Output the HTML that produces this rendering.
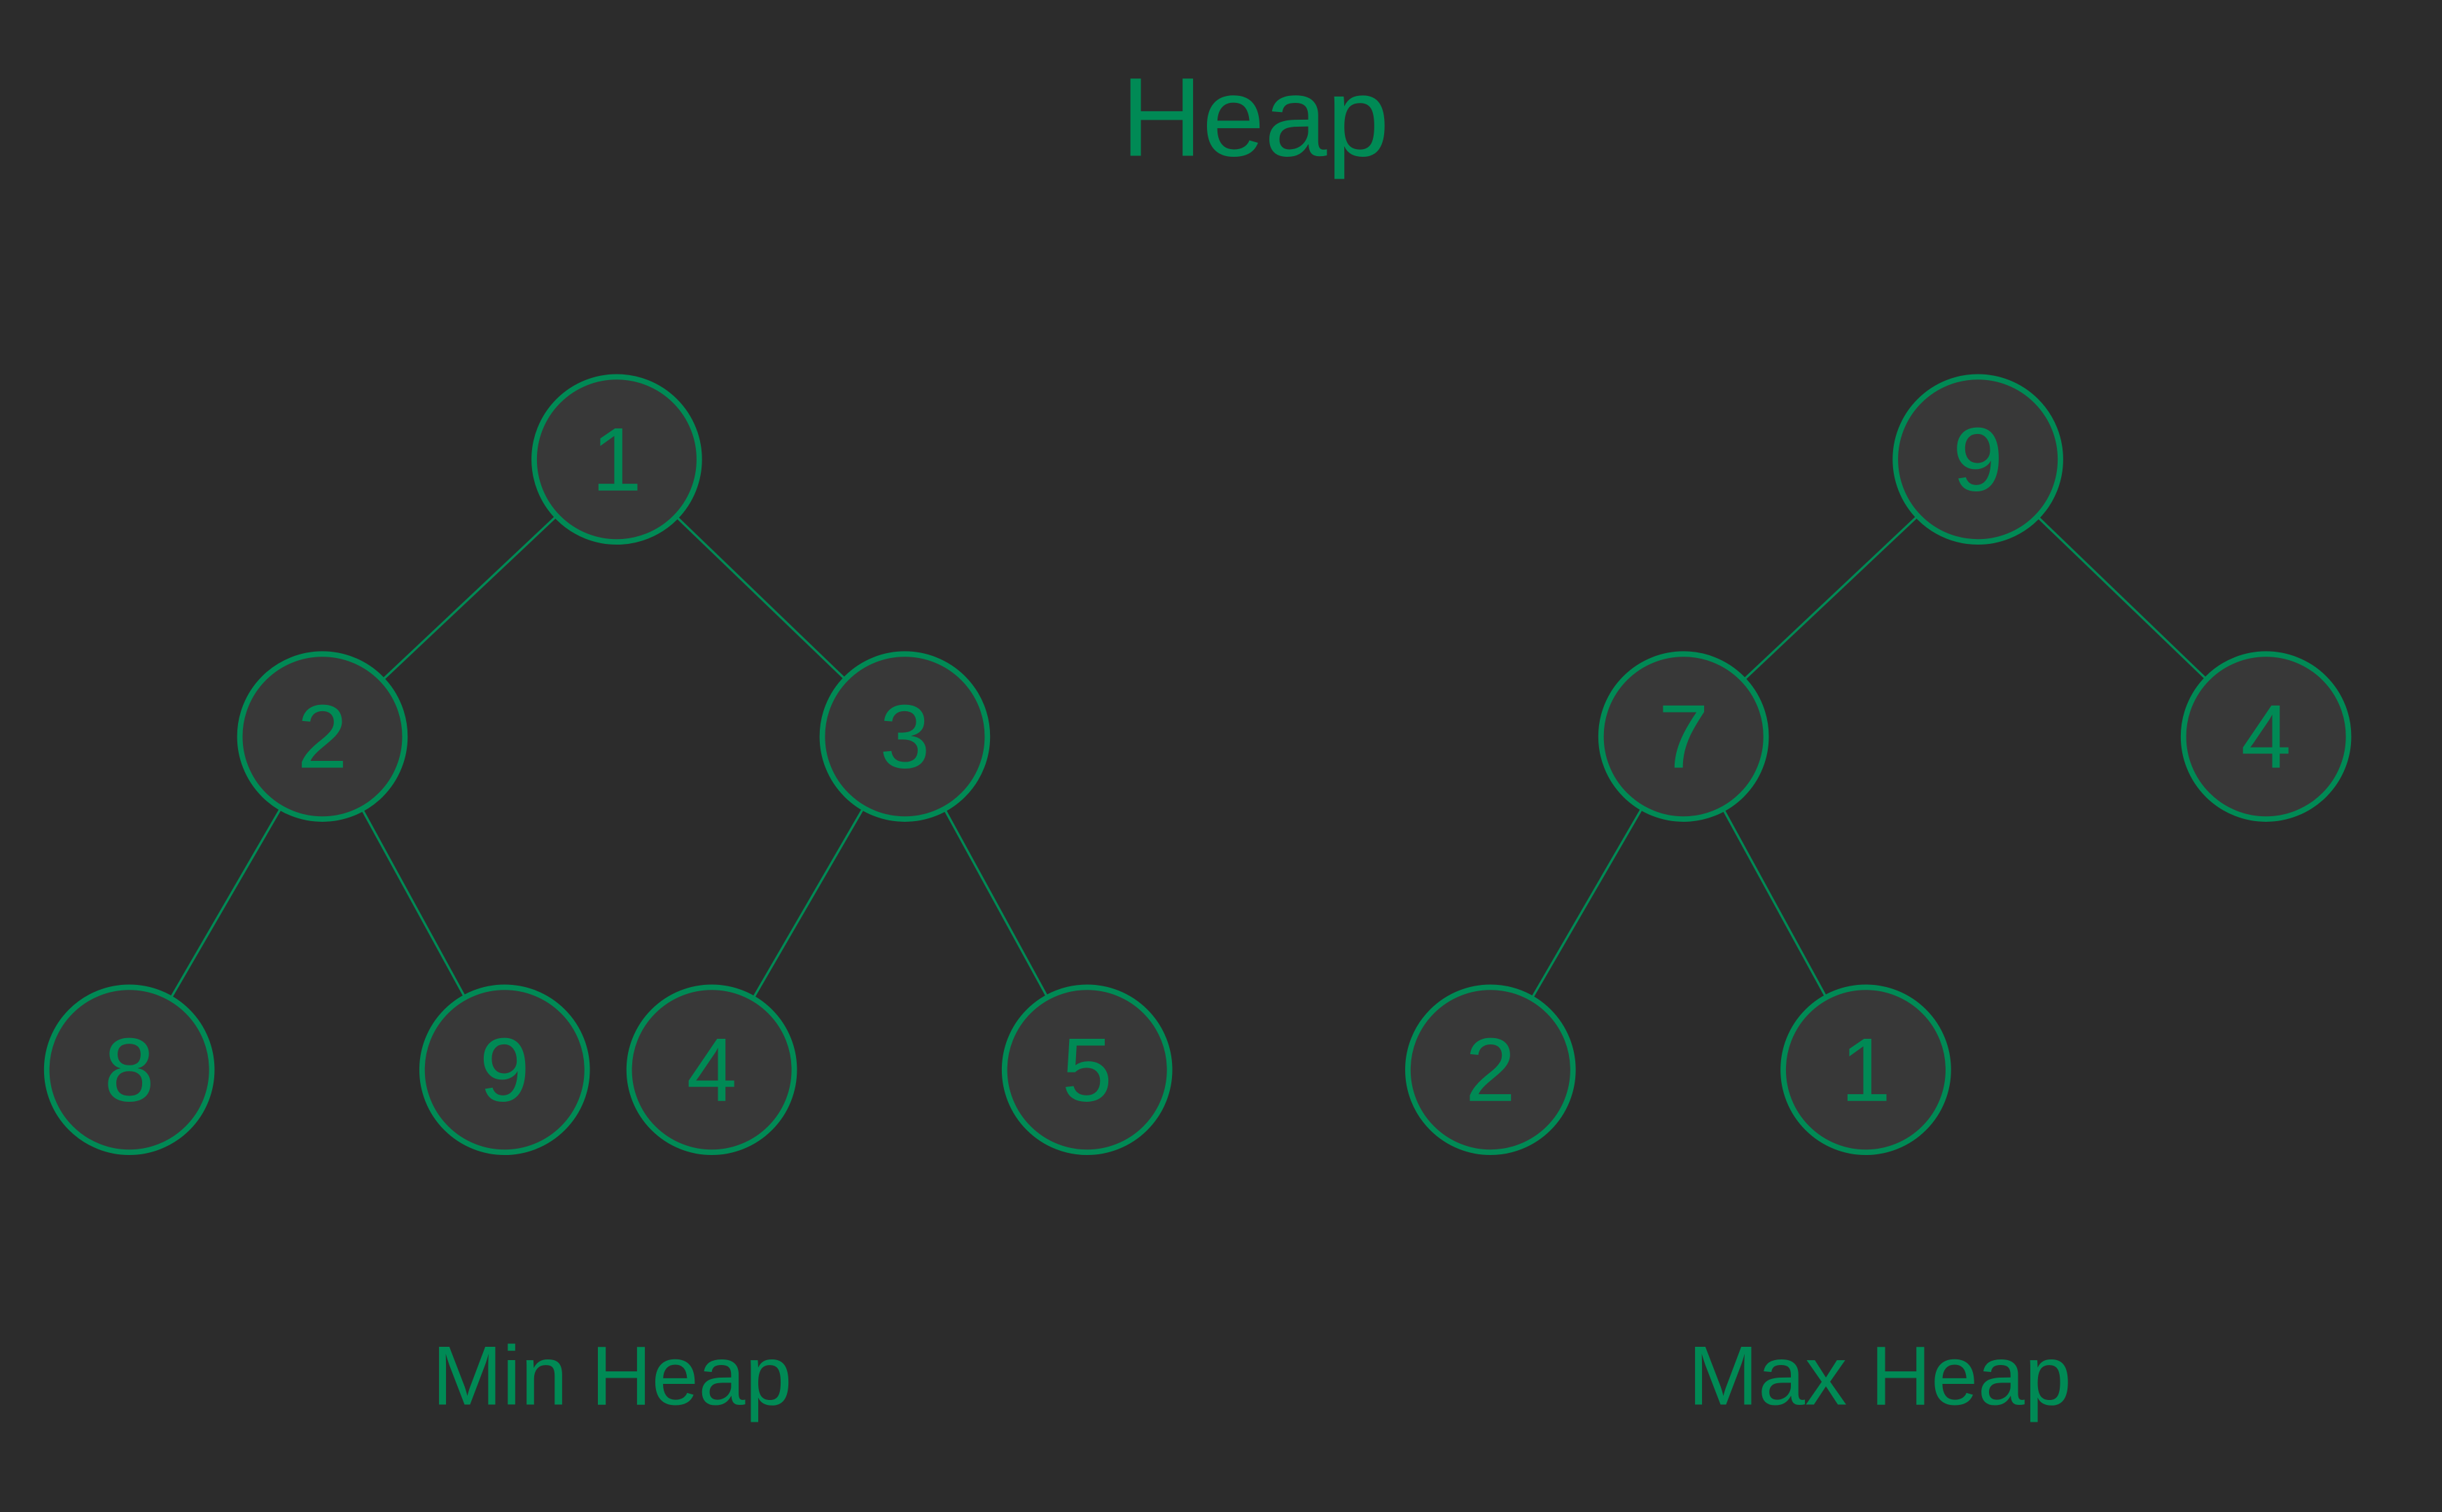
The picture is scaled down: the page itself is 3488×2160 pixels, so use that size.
<!DOCTYPE html>
<html><head><meta charset="utf-8"><style>
html,body{margin:0;padding:0;background:#2c2c2c;}
svg{display:block;}
text{font-family:"Liberation Sans",sans-serif;fill:#008a55;}
</style></head><body>
<svg id="chart" width="3488" height="2160" viewBox="0 0 1568 971" xmlns="http://www.w3.org/2000/svg">
<rect width="1568" height="971" fill="#2c2c2c"/>
<text x="806" y="100" font-size="72" text-anchor="middle">Heap</text>
<text x="393" y="902" font-size="54" text-anchor="middle">Min Heap</text>
<text x="1207" y="902" font-size="54" text-anchor="middle">Max Heap</text>
<g id="edges"></g><g id="nodes"></g>
</svg>
<script>
const minValues=[1,2,3,8,9,4,5];
const maxValues=[9,7,4,2,1];
const minCx=[396,207,581,83,324,457,698];
const minCy=[295,473,473,687,687,687,687];
const maxCx=[1270,1081,1455,957,1198];
const maxCy=[295,473,473,687,687];
const minParents=[-1,0,0,1,1,2,2];
const maxParents=[-1,0,0,1,1];
const NS="http://www.w3.org/2000/svg",R=53;
const eg=document.getElementById('edges'),ng=document.getElementById('nodes');
function draw(vals,cx,cy,par,prefix){
  vals.forEach((v,i)=>{
    if(par[i]>=0){
      const p=par[i];const dx=cx[i]-cx[p],dy=cy[i]-cy[p],d=Math.hypot(dx,dy);
      const l=document.createElementNS(NS,'line');
      l.setAttribute('x1',cx[p]+dx/d*R);l.setAttribute('y1',cy[p]+dy/d*R);
      l.setAttribute('x2',cx[i]-dx/d*R);l.setAttribute('y2',cy[i]-dy/d*R);
      l.setAttribute('stroke','#008a55');l.setAttribute('stroke-width','1.5');
      
      
      eg.appendChild(l);
    }
    const c=document.createElementNS(NS,'circle');
    c.setAttribute('cx',cx[i]);c.setAttribute('cy',cy[i]);c.setAttribute('r',R);
    c.setAttribute('fill','#383838');c.setAttribute('stroke','#008a55');c.setAttribute('stroke-width','3.5');
    
    
    ng.appendChild(c);
    const t=document.createElementNS(NS,'text');
    t.setAttribute('x',cx[i]);t.setAttribute('y',cy[i]+20);t.setAttribute('font-size','58');
    t.setAttribute('text-anchor','middle');t.textContent=v;
    
    
    ng.appendChild(t);
  });
}
draw(minValues,minCx,minCy,minParents,'min-heap');
draw(maxValues,maxCx,maxCy,maxParents,'max-heap');
</script>
</body></html>
